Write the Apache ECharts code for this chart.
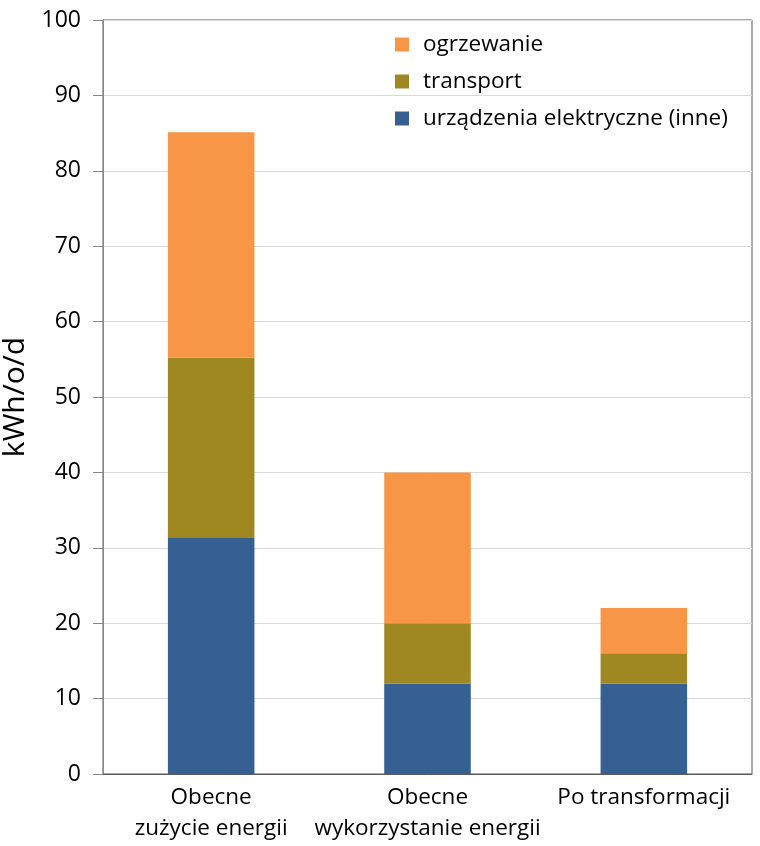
<!DOCTYPE html>
<html>
<head>
<meta charset="utf-8">
<script src="https://cdn.jsdelivr.net/npm/echarts@6/dist/echarts.min.js"></script>
<style>
  html, body { margin: 0; padding: 0; background: #fff; }
  #chart { width: 760px; height: 846px; }
</style>
</head>
<body>
<div id="chart"></div>
<script>
const categories = ["Obecne\nzużycie energii", "Obecne\nwykorzystanie energii", "Po transformacji"];
const urzadzenia = [31.3, 12, 12];
const transport = [23.9, 8, 4];
const ogrzewanie = [29.9, 20, 6];
const yTicks = [0, 10, 20, 30, 40, 50, 60, 70, 80, 90, 100];

const font = "Open Sans";
const chart = echarts.init(document.getElementById("chart"));

chart.setOption({
  animation: false,
  textStyle: { fontFamily: font },
  grid: {
    left: 103, right: 8, top: 20, bottom: 72,
    outerBoundsMode: "none",
    containLabel: false,
    show: true, borderColor: "#595959", borderWidth: 1
  },
  legend: {
    orient: "vertical",
    left: 390, top: 28,
    itemWidth: 14, itemHeight: 14, itemGap: 14,
    icon: "rect",
    textStyle: { fontSize: 22.5, color: "#000", fontFamily: font, padding: [0, 0, 0, 9] },
    data: ["ogrzewanie", "transport", "urządzenia elektryczne (inne)"]
  },
  xAxis: {
    type: "category",
    data: categories,
    axisTick: { show: false },
    axisLine: { lineStyle: { color: "#595959" } },
    axisLabel: { color: "#000", fontSize: 22.5, lineHeight: 31, margin: 8, interval: 0 }
  },
  yAxis: {
    type: "value",
    min: yTicks[0], max: yTicks[yTicks.length - 1], interval: 10,
    name: "kWh/o/d",
    nameLocation: "middle",
    nameGap: 62,
    nameRotate: 90,
    nameTextStyle: { fontSize: 30, color: "#000" },
    axisLine: { show: true, lineStyle: { color: "#868686" } },
    axisTick: { show: true, inside: false, length: 10, lineStyle: { color: "#868686" } },
    axisLabel: { color: "#000", fontSize: 23, margin: 22 },
    splitLine: { lineStyle: { color: "#D9D9D9" } }
  },
  series: [
    { name: "urządzenia elektryczne (inne)", type: "bar", stack: "a", data: urzadzenia,
      barWidth: "40%", itemStyle: { color: "#366092" } },
    { name: "transport", type: "bar", stack: "a", data: transport,
      itemStyle: { color: "#9F8822" } },
    { name: "ogrzewanie", type: "bar", stack: "a", data: ogrzewanie,
      itemStyle: { color: "#F79646" } }
  ]
});
</script>
</body>
</html>
